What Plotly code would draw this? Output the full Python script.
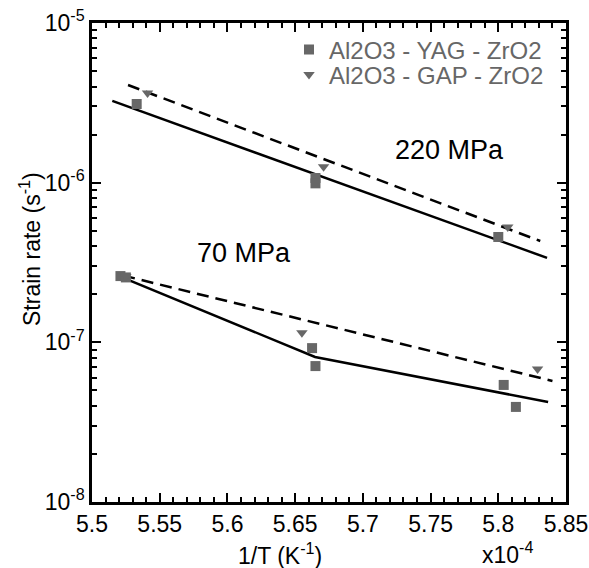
import plotly.graph_objects as go

# x in units of 1e-4 K^-1
# 220 MPa data
yag220_x = [5.533, 5.665, 5.665, 5.800]
yag220_y = [3.11e-6, 1.07e-6, 0.99e-6, 4.57e-7]
gap220_x = [5.541, 5.671, 5.807]
gap220_y = [3.65e-6, 1.26e-6, 5.28e-7]
# 70 MPa data
yag70_x = [5.521, 5.525, 5.6625, 5.665, 5.804, 5.813]
yag70_y = [2.60e-7, 2.55e-7, 9.2e-8, 7.1e-8, 5.41e-8, 3.94e-8]
gap70_x = [5.525, 5.655, 5.829]
gap70_y = [2.58e-7, 1.15e-7, 6.8e-8]

# fit lines
fit220_solid_x = [5.515, 5.836]
fit220_solid_y = [3.25e-6, 3.38e-7]
fit220_dash_x = [5.5266, 5.831]
fit220_dash_y = [4.09e-6, 4.31e-7]
fit70_solid_x = [5.5214, 5.6647, 5.8368]
fit70_solid_y = [2.57e-7, 8.1e-8, 4.23e-8]
fit70_dash_x = [5.523, 5.840]
fit70_dash_y = [2.62e-7, 5.73e-8]

x_ticks = [5.5, 5.55, 5.6, 5.65, 5.7, 5.75, 5.8, 5.85]
x_ticktext = ["5.5", "5.55", "5.6", "5.65", "5.7", "5.75", "5.8", "5.85"]
y_ticks = [1e-8, 1e-7, 1e-6, 1e-5]
y_ticktext = ["10<sup>-8</sup>", "10<sup>-7</sup>", "10<sup>-6</sup>", "10<sup>-5</sup>"]

FONT = "Arial, Liberation Sans, sans-serif"
GRAY = "#676767"

fig = go.Figure()

line_style = dict(color="black", width=2.5)
dash_style = dict(color="black", width=2.5, dash="12px,7px")
fig.add_trace(go.Scatter(x=fit220_solid_x, y=fit220_solid_y, mode="lines", line=line_style, showlegend=False))
fig.add_trace(go.Scatter(x=fit220_dash_x, y=fit220_dash_y, mode="lines", line=dash_style, showlegend=False))
fig.add_trace(go.Scatter(x=fit70_solid_x, y=fit70_solid_y, mode="lines", line=line_style, showlegend=False))
fig.add_trace(go.Scatter(x=fit70_dash_x, y=fit70_dash_y, mode="lines", line=dash_style, showlegend=False))

fig.add_trace(go.Scatter(x=yag220_x + yag70_x, y=yag220_y + yag70_y, mode="markers",
                         name="Al2O3 - YAG - ZrO2", legend="legend",
                         marker=dict(symbol="square", size=10, color=GRAY)))
fig.add_trace(go.Scatter(x=gap220_x + gap70_x, y=gap220_y + gap70_y, mode="markers",
                         name="Al2O3 - GAP - ZrO2", legend="legend2",
                         marker=dict(symbol="triangle-down", size=10, color=GRAY)))

minor_x = [round(5.5 + 0.01 * i, 3) for i in range(36)]
minor_y = [k * 10 ** e for e in (-8, -7, -6) for k in range(2, 10)]

fig.update_xaxes(
    range=[5.5, 5.85], tickmode="array", tickvals=x_ticks, ticktext=x_ticktext,
    ticks="inside", ticklen=9, tickwidth=2, tickcolor="black",
    showline=True, linecolor="black", linewidth=2.5, mirror="ticks",
    showgrid=False, zeroline=False, automargin=False,
    tickfont=dict(family=FONT, size=23, color="black"),
    minor=dict(tickmode="array", tickvals=minor_x, ticks="inside", ticklen=5, tickwidth=2,
               tickcolor="black", showgrid=False),
)
fig.update_yaxes(
    type="log", range=[-8, -5], tickmode="array", tickvals=y_ticks, ticktext=y_ticktext,
    ticks="inside", ticklen=9, tickwidth=2, tickcolor="black",
    showline=True, linecolor="black", linewidth=2.5, mirror="ticks",
    showgrid=False, zeroline=False, automargin=False,
    tickfont=dict(family=FONT, size=23, color="black"),
    minor=dict(tickmode="array", tickvals=minor_y, ticks="inside", ticklen=5, tickwidth=2,
               tickcolor="black", showgrid=False),
)

fig.add_annotation(x=5.7637, y=-5.795, xref="x", yref="y", text="220 MPa", showarrow=False,
                   font=dict(family=FONT, size=27, color="black"))
fig.add_annotation(x=5.612, y=-6.44, xref="x", yref="y", text="70 MPa", showarrow=False,
                   font=dict(family=FONT, size=27, color="black"))

legend_common = dict(xanchor="left", yanchor="middle", bgcolor="rgba(0,0,0,0)",
                     font=dict(family=FONT, size=24, color=GRAY), itemwidth=30)
fig.update_layout(
    width=589, height=568,
    margin=dict(l=92, r=23, t=23, b=66),
    paper_bgcolor="white", plot_bgcolor="white",
    font=dict(family=FONT, size=23, color="black"),
    legend=dict(x=(289 - 92) / 474, y=(502 - 50) / 479, **legend_common),
    legend2=dict(x=(289 - 92) / 474, y=(502 - 75) / 479, **legend_common),
    showlegend=True,
)

# axis titles as annotations positioned like the reference
fig.add_annotation(xref="paper", yref="paper", x=(280 - 92) / 474, y=(502 - 554) / 479,
                   text="1/T (K<sup>-1</sup>)", showarrow=False,
                   font=dict(family=FONT, size=23, color="black"), xanchor="center", yanchor="middle")
fig.add_annotation(xref="paper", yref="paper", x=(507 - 92) / 474, y=(502 - 553) / 479,
                   text="x10<sup>-4</sup>", showarrow=False,
                   font=dict(family=FONT, size=23, color="black"), xanchor="center", yanchor="middle")
fig.add_annotation(xref="paper", yref="paper", x=(30 - 92) / 474, y=(502 - 249) / 479,
                   text="Strain rate (s<sup>-1</sup>)", showarrow=False, textangle=-90,
                   font=dict(family=FONT, size=23, color="black"), xanchor="center", yanchor="middle")

fig.write_html("out.html", config={"displayModeBar": False},
               post_script="document.body.style.margin='0';document.body.style.padding='0';"
                           "document.documentElement.style.overflow='hidden';")
